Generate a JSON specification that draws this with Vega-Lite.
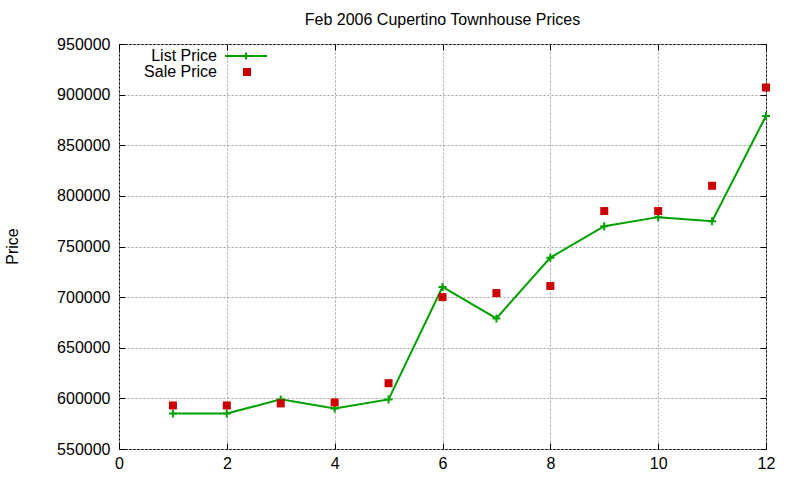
{
  "$schema": "https://vega.github.io/schema/vega-lite/v6.json",
  "autosize": "none",
  "width": 647,
  "height": 405,
  "padding": {"left": 119, "top": 44, "right": 34, "bottom": 31},
  "background": "white",
  "config": {
    "font": "Liberation Sans",
    "view": {"stroke": "black", "strokeWidth": 1},
    "axis": {"labelFont": "Liberation Sans", "labelFontSize": 16, "labelColor": "black", "titleFont": "Liberation Sans", "titleFontSize": 16, "titleFontWeight": "normal", "titleColor": "black", "labelFlush": false, "labelOverlap": false},
    "legend": {"labelFont": "Liberation Sans", "labelFontSize": 16, "labelColor": "black"}
  },
  "title": {"text": "Feb 2006 Cupertino Townhouse Prices", "font": "Liberation Sans", "fontSize": 16, "fontWeight": "normal", "color": "black", "offset": 6},
  "data": {"values": [
    {"x": 1, "series": "List Price", "price": 585000},
    {"x": 2, "series": "List Price", "price": 585000},
    {"x": 3, "series": "List Price", "price": 599000},
    {"x": 4, "series": "List Price", "price": 590000},
    {"x": 5, "series": "List Price", "price": 599000},
    {"x": 6, "series": "List Price", "price": 710000},
    {"x": 7, "series": "List Price", "price": 679000},
    {"x": 8, "series": "List Price", "price": 739000},
    {"x": 9, "series": "List Price", "price": 770000},
    {"x": 10, "series": "List Price", "price": 779000},
    {"x": 11, "series": "List Price", "price": 775000},
    {"x": 12, "series": "List Price", "price": 879000},
    {"x": 1, "series": "Sale Price", "price": 593000},
    {"x": 2, "series": "Sale Price", "price": 593000},
    {"x": 3, "series": "Sale Price", "price": 595000},
    {"x": 4, "series": "Sale Price", "price": 596000},
    {"x": 5, "series": "Sale Price", "price": 615000},
    {"x": 6, "series": "Sale Price", "price": 700000},
    {"x": 7, "series": "Sale Price", "price": 704000},
    {"x": 8, "series": "Sale Price", "price": 711000},
    {"x": 9, "series": "Sale Price", "price": 785000},
    {"x": 10, "series": "Sale Price", "price": 785000},
    {"x": 11, "series": "Sale Price", "price": 810000},
    {"x": 12, "series": "Sale Price", "price": 907000}
  ]},
  "resolve": {"axis": {"x": "independent", "y": "independent"}, "legend": {"stroke": "independent", "fill": "independent"}},
  "layer": [
    {
      "transform": [{"filter": "datum.series === 'List Price'"}],
      "mark": {"type": "line", "strokeWidth": 2},
      "encoding": {
        "x": {"field": "x", "type": "quantitative", "scale": {"domain": [0, 12], "nice": false, "zero": false},
          "axis": {"orient": "bottom", "values": [0, 2, 4, 6, 8, 10, 12], "title": null, "domain": false, "tickSize": -6, "tickColor": "black", "labelPadding": 12, "grid": true, "gridColor": "#a0a0a0", "gridDash": [2, 2], "gridWidth": 1}},
        "y": {"field": "price", "type": "quantitative", "scale": {"domain": [550000, 950000], "nice": false, "zero": false},
          "axis": {"orient": "left", "values": [550000, 600000, 650000, 700000, 750000, 800000, 850000, 900000, 950000], "format": "d", "title": "Price", "titleX": -107, "titleY": 202, "titleAngle": -90, "titleAlign": "center", "titleBaseline": "middle", "domain": false, "tickSize": -6, "tickColor": "black", "labelPadding": 15, "grid": true, "gridColor": "#a0a0a0", "gridDash": [2, 2], "gridWidth": 1}},
        "stroke": {"field": "series", "type": "nominal", "scale": {"domain": ["List Price"], "range": ["#00a000"]},
          "legend": {"orient": "none", "legendX": 105, "legendY": -10, "title": null, "padding": 0, "symbolType": "M-1,0H1M0,-0.17V0.17", "symbolSize": 1764, "symbolStrokeWidth": 2, "labelAlign": "right", "labelOffset": -51}}
      }
    },
    {
      "transform": [{"filter": "datum.series === 'List Price'"}],
      "mark": {"type": "point", "shape": "M-1,0H1M0,-1V1", "size": 64, "filled": false, "stroke": "#00a000", "strokeWidth": 2, "opacity": 1},
      "encoding": {
        "x": {"field": "x", "type": "quantitative", "axis": {"orient": "top", "values": [0, 2, 4, 6, 8, 10, 12], "title": null, "labels": false, "domain": false, "tickSize": -6, "tickColor": "black", "grid": false}},
        "y": {"field": "price", "type": "quantitative", "axis": {"orient": "right", "values": [550000, 600000, 650000, 700000, 750000, 800000, 850000, 900000, 950000], "title": null, "labels": false, "domain": false, "tickSize": -6, "tickColor": "black", "grid": false}}
      }
    },
    {
      "transform": [{"filter": "datum.series === 'Sale Price'"}],
      "mark": {"type": "point", "shape": "square", "size": 64, "filled": true, "opacity": 1},
      "encoding": {
        "x": {"field": "x", "type": "quantitative", "axis": null},
        "y": {"field": "price", "type": "quantitative", "axis": null},
        "fill": {"field": "series", "type": "nominal", "scale": {"domain": ["Sale Price"], "range": ["#cc0000"]},
          "legend": {"orient": "none", "legendX": 120, "legendY": 20, "title": null, "padding": 0, "symbolType": "square", "symbolSize": 64, "symbolOpacity": 1, "labelAlign": "right", "labelOffset": -38}}
      }
    }
  ]
}
